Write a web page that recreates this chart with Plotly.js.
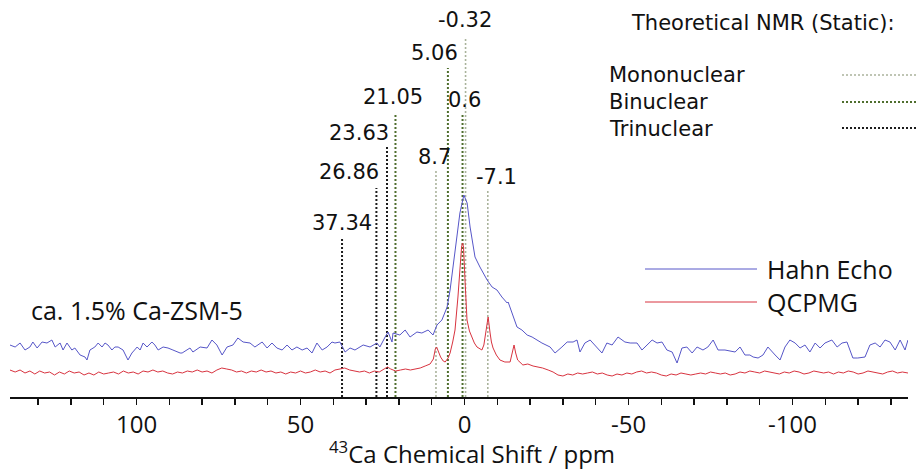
<!DOCTYPE html>
<html><head><meta charset="utf-8">
<script src="https://cdn.plot.ly/plotly-3.0.1.min.js"></script>
<style>html,body{margin:0;padding:0;background:#fff}#chart{width:918px;height:471px}</style>
</head><body><div id="chart"></div>
<script>
// Hahn Echo spectrum (ppm, intensity a.u.)
const hahnShift = [138.6,137.0,135.5,134.0,132.5,131.6,130.3,128.8,127.3,125.8,124.8,123.3,122.4,121.2,119.7,118.8,117.2,115.7,115.1,114.2,112.7,111.7,110.5,109.6,108.7,107.5,106.6,105.6,104.1,102.6,101.4,99.8,98.9,98.0,96.8,95.3,94.4,93.4,91.9,90.4,88.9,86.7,86.1,83.7,82.8,80.6,78.5,77.0,75.5,73.9,72.4,70.6,69.1,67.5,65.4,63.9,61.7,60.2,58.7,57.2,55.6,54.1,52.6,51.1,49.5,48.0,46.5,45.0,43.4,41.9,40.4,39.5,38.0,36.4,34.9,33.4,30.9,28.8,26.7,25.8,24.2,23.3,22.1,21.8,19.7,18.1,16.6,14.5,13.0,11.1,9.6,8.4,6.9,5.3,4.4,3.5,2.3,1.4,0.2,-0.8,-1.7,-3.2,-4.7,-6.9,-8.4,-9.9,-11.4,-13.0,-13.3,-14.5,-16.0,-17.5,-19.1,-20.6,-22.1,-23.6,-26.1,-27.6,-29.7,-31.3,-33.1,-34.3,-35.2,-36.7,-38.3,-39.8,-41.9,-43.4,-45.0,-46.8,-48.9,-50.5,-52.6,-54.1,-55.6,-57.2,-58.7,-60.2,-61.7,-63.3,-64.8,-66.3,-67.8,-69.4,-70.9,-72.7,-74.2,-75.8,-77.3,-79.4,-82.5,-84.0,-85.5,-87.0,-88.0,-89.5,-91.0,-92.5,-94.7,-96.2,-97.7,-99.2,-100.8,-102.3,-103.8,-105.3,-106.9,-108.4,-109.9,-112.0,-113.6,-115.1,-116.6,-118.4,-119.9,-122.1,-123.6,-125.2,-126.7,-128.2,-129.7,-131.3,-132.8,-134.3,-135.2];
const hahnInt = [52,50,54,47,50,55,49,55,54,57,50,54,47,54,47,49,42,40,37,47,50,54,50,54,52,47,50,50,47,37,44,50,47,54,50,55,52,47,50,49,47,44,44,49,45,50,49,57,52,42,50,52,59,55,54,50,55,49,54,49,47,52,47,50,47,49,44,54,47,50,55,54,55,45,49,47,52,50,54,50,60,65,55,64,62,67,60,65,64,67,62,72,77,90,107,130,157,184,202,194,170,140,130,117,110,107,100,94,95,84,70,67,62,60,57,54,50,44,50,55,55,57,45,54,57,52,44,54,52,60,55,54,54,47,52,57,54,55,47,45,34,49,50,44,50,47,50,57,47,47,45,50,42,42,40,39,42,50,42,37,50,57,54,49,52,45,54,49,54,57,50,54,55,39,39,40,52,54,50,57,55,47,57,47,57];

// QCPMG spectrum (ppm, intensity a.u.)
const qcpmgShift = [138.6,137,135.5,134,132.5,131,129.5,128,126.5,125,123.5,122,120.5,119,117.5,116,114.5,113,111.5,110,108.5,107,105.5,104,102.5,101,99.5,98,96.5,95,93.5,92,90.5,89,87.5,86,84.5,83,81.5,80,78.5,77,75.5,74,72.5,71,69.5,68,66.5,65,63.5,62,60.5,59,57.5,56,54.5,53,51.5,50,48.5,47,45.5,44,42.5,41,39.5,38,36.5,35,33.5,32,30.5,29,27.5,26,24.5,23.5,22.5,21,19.5,18,16.5,15,13.5,12,10.5,9.5,8.9,8.5,8.0,7.3,6.5,5.9,5.0,4.4,3.6,2.9,2.0,1.4,0.9,0.6,0.3,-0.15,-0.76,-1.5,-2.3,-3.0,-3.8,-4.6,-5.3,-5.9,-6.5,-7.2,-7.8,-8.2,-8.7,-9.7,-10.8,-12.3,-13.9,-14.6,-15.1,-15.6,-16.2,-17.8,-19.3,-20.9,-22.3,-23.8,-25.5,-27,-28.5,-30,-31.5,-33,-34.5,-36,-37.5,-39,-40.5,-42,-43.5,-45,-46.5,-48,-49.5,-51,-52.5,-54,-55.5,-57,-58.5,-60,-61.5,-63,-64.5,-66,-67.5,-69,-70.5,-72,-73.5,-75,-76.5,-78,-79.5,-81,-82.5,-84,-85.5,-87,-88.5,-90,-91.5,-93,-94.5,-96,-97.5,-99,-100.5,-102,-103.5,-105,-106.5,-108,-109.5,-111,-112.5,-114,-115.5,-117,-118.5,-120,-121.5,-123,-124.5,-126,-127.5,-129,-130.5,-132,-133.5,-135.2];
const qcpmgInt = [27,25,27,24,26,23,26,24,25,22,25,23,26,24,25,22,24,22,25,23,24,25,23,26,24,25,23,26,25,27,25,26,24,23,25,24,26,25,27,25,26,24,27,29,28,27,25,26,24,26,25,27,25,26,24,25,23,25,24,26,24,25,27,25,26,24,27,28,29,27,26,25,26,24,26,25,28,30,28,26,27,28,27,28,29,31,33,38,48,50,45,40,36,35,39,44,55,67,100,130,150,154,150,117,77,66,60,54,50,48,47,52,65,80,64,55,49,42,37,35,35,44,52,44,37,32,33,31,30,29,27,25,22,21,23,22,24,23,24,25,23,24,22,21,23,22,24,23,25,26,24,25,24,22,21,23,22,24,23,22,23,24,23,25,24,23,24,22,23,25,24,26,25,24,26,25,24,23,25,24,26,25,23,24,26,25,24,25,23,25,24,26,25,23,24,26,25,24,23,25,26,24,25,24];

// Theoretical static NMR shifts (ppm) and label heights (a.u.)
const monoShift = [-0.32, 8.7, -7.1];
const monoTop = [360, 227, 207];
const binuShift = [5.06, 21.05, 0.6];
const binuTop = [329, 284, 282];
const triShift = [37.34, 26.86, 23.63];
const triTop = [159, 209, 250];

const tickVals = [100, 50, 0, -50, -100];
const tickText = ['100', '50', '0', '-50', '-100'];

const C_MONO = '#aab39c', C_BINU = '#4f6e2e', C_TRI = '#1c1c1c';
const C_BLUE = '#5656c8', C_RED = '#d8333f';

const traces = [];
function refLines(xs, tops, color, w) {
  xs.forEach((v, i) => {
    traces.push({type:'scatter', mode:'lines', x:[v, v], y:[0, tops[i]],
      line:{color:color, width:w, dash:'2px,2px'}, hoverinfo:'skip', showlegend:false});
  });
}
refLines(monoShift, monoTop, C_MONO, 1.6);
refLines(binuShift, binuTop, C_BINU, 2);
refLines(triShift, triTop, C_TRI, 2);
traces.push({type:'scatter', mode:'lines', x:qcpmgShift, y:qcpmgInt, name:'QCPMG', line:{color:C_RED, width:1}});
traces.push({type:'scatter', mode:'lines', x:hahnShift, y:hahnInt, name:'Hahn Echo', line:{color:C_BLUE, width:1}});

const F1 = 'DejaVu Sans', F2 = 'Open Sans';
const ann = [];
function lab(text, x, y) { ann.push({text:text, x:x, y:y, xref:'x', yref:'y', showarrow:false, xanchor:'center', yanchor:'middle', font:{family:F1, size:21, color:'#111'}}); }
lab('-0.32', -0.15, 377);
lab('5.06', 9.1, 344);
lab('21.05', 21.95, 300);
lab('23.63', 32.2, 264);
lab('26.86', 35.2, 225);
lab('37.34', 37.2, 174);
lab('8.7', 9.3, 240);
lab('0.6', 0.0, 297);
lab('-7.1', -9.9, 220);

function pt(text, px, py, family, size, anchor) {
  ann.push({text:text, x:(px-10)/898, y:(397-py)/397, xref:'paper', yref:'paper', showarrow:false,
    xanchor:anchor || 'left', yanchor:'middle', font:{family:family, size:size, color:'#111'}});
}
pt('Theoretical NMR (Static):', 629, 23, F1, 21);
pt('Mononuclear', 607, 75, F1, 21);
pt('Binuclear', 607, 102, F1, 21);
pt('Trinuclear', 607, 129, F1, 21);
pt('Hahn Echo', 765, 269, F2, 25);
pt('QCPMG', 765, 302, F2, 25);
pt('ca. 1.5% Ca-ZSM-5', 29, 310, F2, 25);
pt('<sup>43</sup>Ca Chemical Shift / ppm', 472, 452, F2, 24, 'center');

function hl(px0, px1, py, color, w, dash) {
  return {type:'line', xref:'paper', yref:'paper', x0:(px0-10)/898, x1:(px1-10)/898, y0:(397-py)/397, y1:(397-py)/397,
    line:{color:color, width:w, dash:dash}};
}
const shapes = [
  hl(645, 757, 269, C_BLUE, 1, 'solid'),
  hl(645, 757, 302, C_RED, 1, 'solid'),
  hl(842, 918, 75, C_MONO, 1.6, '2px,2px'),
  hl(842, 918, 102, C_BINU, 2, '2px,2px'),
  hl(842, 918, 128, C_TRI, 2, '2px,2px')
];

const layout = {
  width:918, height:471,
  margin:{l:10, r:10, t:0, b:74},
  paper_bgcolor:'#fff', plot_bgcolor:'#fff',
  showlegend:false,
  xaxis:{range:[138.57, -135.21], showgrid:false, zeroline:false, showline:true, linecolor:'#111', linewidth:1.5,
    ticks:'outside', ticklen:6, tickwidth:1.5, tickcolor:'#111', tickvals:tickVals, ticktext:tickText,
    minor:{ticks:'outside', ticklen:6, tickwidth:1.5, tickcolor:'#111', tick0:0, dtick:10, showgrid:false},
    tickfont:{family:F2, size:24, color:'#111'},
    automargin:false, fixedrange:true},
  yaxis:{range:[0, 397], visible:false, fixedrange:true},
  annotations:ann, shapes:shapes
};
Plotly.newPlot('chart', traces, layout, {displayModeBar:false, staticPlot:true});
</script></body></html>
